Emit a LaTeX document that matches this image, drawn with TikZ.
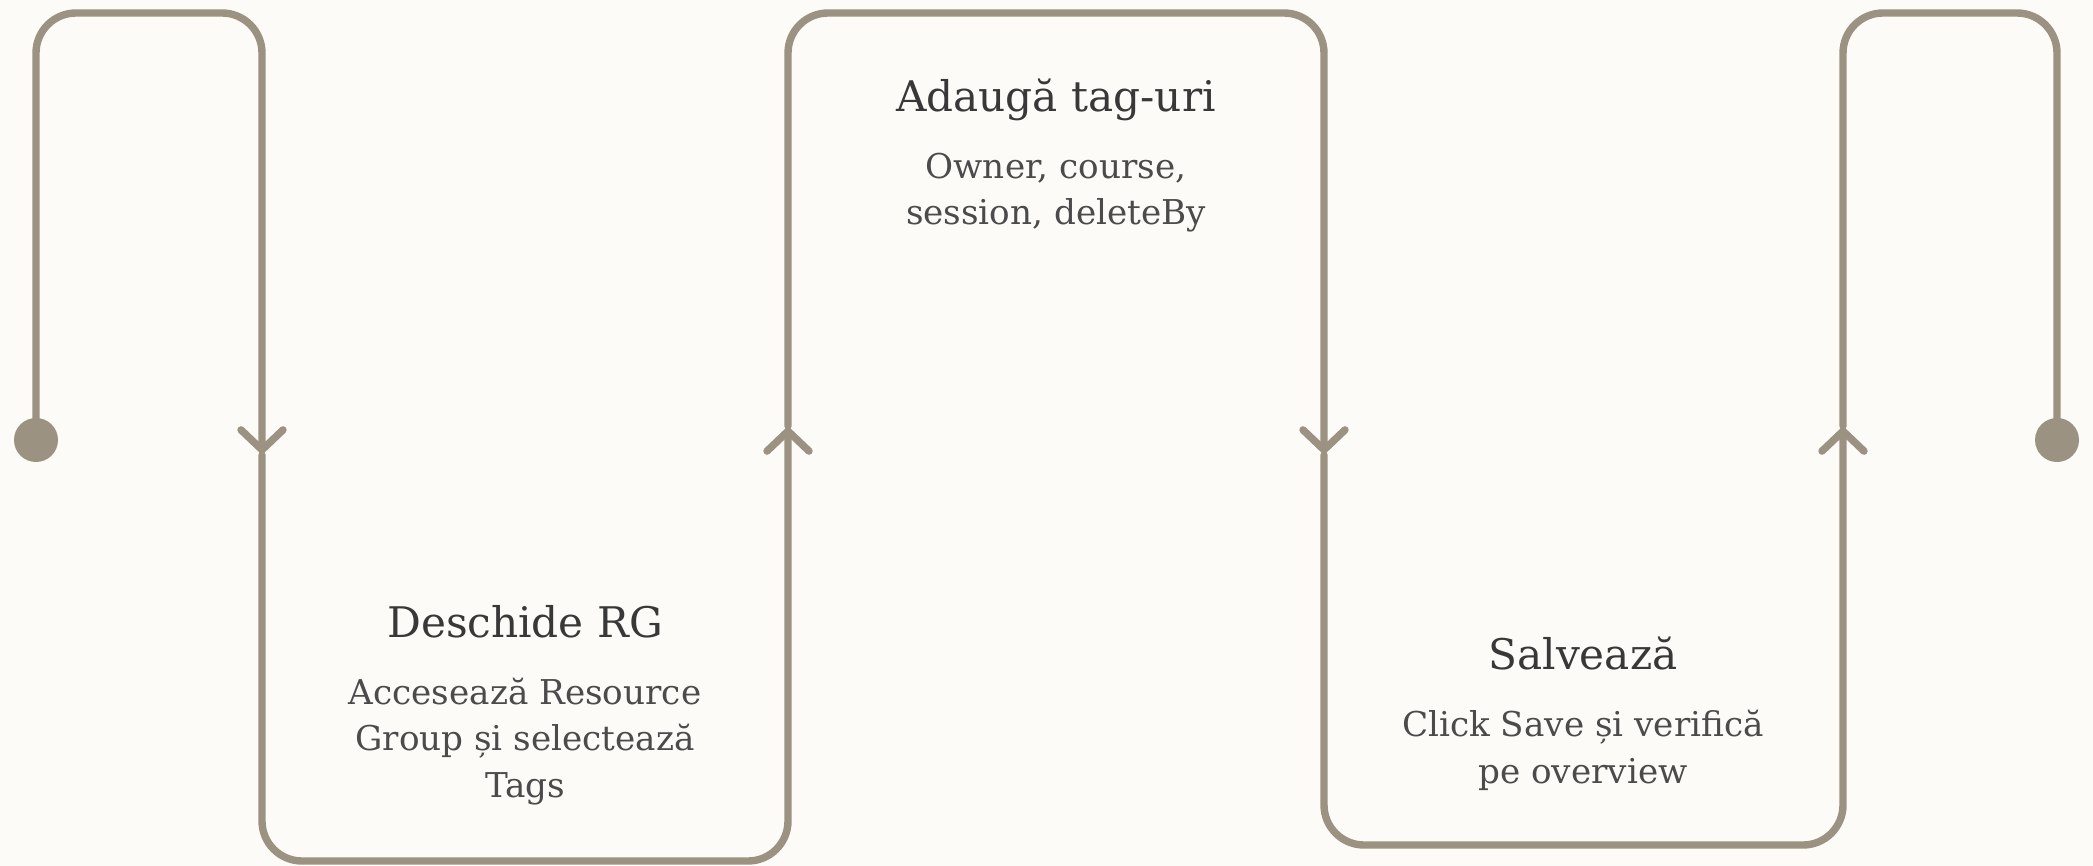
\documentclass[tikz,border=0pt]{standalone}
\usepackage{fontspec}
\setmainfont{DejaVu Serif}
\usetikzlibrary{arrows.meta,positioning}

\definecolor{trackgray}{HTML}{9C9282}
\definecolor{paper}{HTML}{FCFBF8}
\definecolor{titleink}{HTML}{383838}
\definecolor{bodyink}{HTML}{4B4B4B}

\tikzset{
  track/.style={draw=trackgray, line width=3.7pt, rounded corners=20pt,
    line cap=round, line join=round},
  flow/.style={track, -{Straight Barb[length=10pt,width=21pt,line cap=round]}},
  enddot/.style={circle, fill=trackgray, minimum size=22pt, inner sep=0pt},
  steptitle/.style={font=\fontsize{21.1}{25}\selectfont, text=titleink,
    inner sep=0pt, anchor=base},
  stepbody/.style={font=\fontsize{17.1}{23.25}\selectfont, text=bodyink,
    align=center, inner sep=0pt},
}

\begin{document}
\begin{tikzpicture}[x=0.5pt, y=-0.5pt]
  \fill[paper] (0,0) rectangle (2093,866);
  \useasboundingbox (0,0) rectangle (2093,866);

  % ends of the track
  \node[enddot] (dotL) at (36,440) {};
  \node[enddot] (dotR) at (2057,440) {};

  % turning points
  \coordinate (t1) at (150,13);
  \coordinate (m1) at (262,455);
  \coordinate (b1) at (525,861);
  \coordinate (m2) at (788,426);
  \coordinate (t2) at (1056,13);
  \coordinate (m3) at (1324,455);
  \coordinate (b2) at (1583,845);
  \coordinate (m4) at (1843,426);
  \coordinate (t3) at (1950,13);

  % the track
  \draw[flow] (dotL.center) |- (t1) -| (m1);
  \draw[flow] (m1) |- (b1) -| (m2);
  \draw[flow] (m2) |- (t2) -| (m3);
  \draw[flow] (m3) |- (b2) -| (m4);
  \draw[track] (m4) |- (t3) -| (dotR.center);

  % steps (base of a body = its last line)
  \node[steptitle] (open) at (525,637) {Deschide RG};
  \node[stepbody, below=80pt of open.base, anchor=base] (openbody)
    {Accesează Resource\\Group și selectează\\Tags};

  \node[steptitle] (tags) at (1056,112) {Adaugă tag-uri};
  \node[stepbody, below=56.5pt of tags.base, anchor=base] (tagsbody)
    {Owner, course,\\session, deleteBy};

  \node[steptitle] (save) at (1583,669) {Salvează};
  \node[stepbody, below=57pt of save.base, anchor=base] (savebody)
    {Click Save și verifică\\pe overview};
\end{tikzpicture}
\end{document}
